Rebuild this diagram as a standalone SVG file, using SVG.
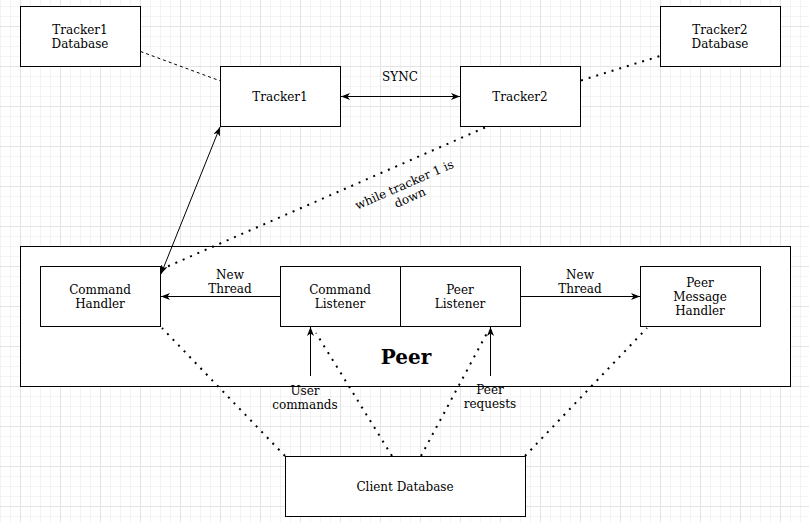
<svg xmlns="http://www.w3.org/2000/svg" width="809" height="522" viewBox="0 0 809 522">
<defs>
<pattern id="minor" x="0" y="6" width="10" height="10" patternUnits="userSpaceOnUse">
<path d="M0.5,0 V10 M0,0.5 H10" fill="none" stroke="#f3f3f3" stroke-width="1"/>
</pattern>
<pattern id="major" x="20" y="26" width="40" height="40" patternUnits="userSpaceOnUse">
<path d="M0.5,0 V40 M0,0.5 H40" fill="none" stroke="#e4e4e4" stroke-width="1"/>
</pattern>
<marker id="arr" viewBox="0 0 9 7" refX="9" refY="3.5" markerWidth="9" markerHeight="7" markerUnits="userSpaceOnUse" orient="auto-start-reverse">
<path d="M0,0 L9,3.5 L0,7 L2.5,3.5 Z" fill="#000"/>
</marker>
</defs>
<style>
.box{fill:#fff;stroke:#000;stroke-width:1}
.t{font-family:"DejaVu Serif",serif;font-size:12px;fill:#000;text-anchor:middle}
.b{font-family:"DejaVu Serif",serif;font-size:20px;font-weight:bold;fill:#000;text-anchor:middle}
.solid{fill:none;stroke:#000;stroke-width:1}
.dot{fill:none;stroke:#000;stroke-width:2;stroke-dasharray:2 6}
.dash{fill:none;stroke:#000;stroke-width:1;stroke-dasharray:3 3}
</style>
<rect width="809" height="522" fill="#fff"/>
<rect width="809" height="522" fill="url(#minor)"/>
<rect width="809" height="522" fill="url(#major)"/>

<g id="peer">
<rect class="box" x="20.5" y="246.5" width="770" height="140"/>
<text class="b" x="406" y="363.5">Peer</text>
</g>
<g id="tracker1-db">
<rect class="box" x="20.5" y="6.5" width="120" height="60"/>
<text class="t" x="80" y="33.5">Tracker1</text>
<text class="t" x="80" y="47.5">Database</text>
</g>
<g id="tracker1">
<rect class="box" x="220.5" y="66.5" width="120" height="60"/>
<text class="t" x="280" y="100.5">Tracker1</text>
</g>
<g id="tracker2">
<rect class="box" x="460.5" y="66.5" width="120" height="60"/>
<text class="t" x="520" y="100.5">Tracker2</text>
</g>
<g id="tracker2-db">
<rect class="box" x="660.5" y="6.5" width="120" height="60"/>
<text class="t" x="720" y="33.5">Tracker2</text>
<text class="t" x="720" y="47.5">Database</text>
</g>
<g id="command-handler">
<rect class="box" x="40.5" y="266.5" width="120" height="60"/>
<text class="t" x="100" y="293.5">Command</text>
<text class="t" x="100" y="307.5">Handler</text>
</g>
<g id="command-listener">
<rect class="box" x="280.5" y="266.5" width="120" height="60"/>
<text class="t" x="340" y="293.5">Command</text>
<text class="t" x="340" y="307.5">Listener</text>
</g>
<g id="peer-listener">
<rect class="box" x="400.5" y="266.5" width="120" height="60"/>
<text class="t" x="460" y="293.5">Peer</text>
<text class="t" x="460" y="307.5">Listener</text>
</g>
<g id="peer-message-handler">
<rect class="box" x="640.5" y="266.5" width="120" height="60"/>
<text class="t" x="700" y="286.5">Peer</text>
<text class="t" x="700" y="300.5">Message</text>
<text class="t" x="700" y="314.5">Handler</text>
</g>
<g id="client-database">
<rect class="box" x="285.5" y="456.5" width="240" height="60"/>
<text class="t" x="405" y="490.5">Client Database</text>
</g>

<g id="connectors">
<path class="dash" d="M140.5,51.5 L220.5,81"/>
<path class="dot" d="M581,80.5 L660,56"/>
<path class="solid" d="M341,96.5 L460,96.5" marker-start="url(#arr)" marker-end="url(#arr)"/>
<text class="t" x="400" y="80.5">SYNC</text>
<path class="solid" d="M161,274 L220,127" marker-start="url(#arr)" marker-end="url(#arr)"/>
<path class="dot" d="M485,127.5 L163,268.5"/>
<g transform="translate(406,188.5) rotate(-23.6)">
<text class="t" x="0" y="0">while tracker 1 is</text>
<text class="t" x="0" y="14">down</text>
</g>
<path class="solid" d="M280,296.5 L161,296.5" marker-end="url(#arr)"/>
<text class="t" x="230" y="278.5">New</text>
<text class="t" x="230" y="292.5">Thread</text>
<path class="solid" d="M520,296.5 L640,296.5" marker-end="url(#arr)"/>
<text class="t" x="580" y="278.5">New</text>
<text class="t" x="580" y="292.5">Thread</text>
<path class="solid" d="M310.5,376 L310.5,327" marker-end="url(#arr)"/>
<text class="t" x="305" y="394.5">User</text>
<text class="t" x="305" y="408.5">commands</text>
<path class="solid" d="M490.5,376 L490.5,327" marker-end="url(#arr)"/>
<text class="t" x="490" y="394">Peer</text>
<text class="t" x="490" y="408">requests</text>
<path class="dot" d="M285,456 L162,328"/>
<path class="dot" d="M392,456 L316,333"/>
<path class="dot" d="M421,456 L487,333"/>
<path class="dot" d="M525,456 L647,328"/>
</g>
</svg>
